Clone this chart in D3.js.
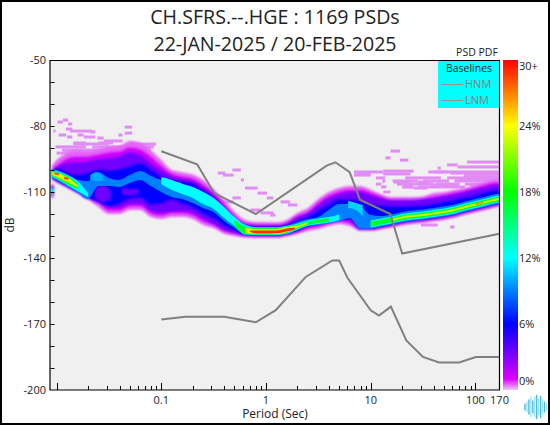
<!DOCTYPE html>
<html><head><meta charset="utf-8">
<script src="https://cdn.jsdelivr.net/npm/d3@7"></script>
<style>html,body{margin:0;padding:0;background:#fff}svg{display:block}text{font-family:"Open Sans",sans-serif;fill:#222}</style>
</head><body><div id="c"></div>
<script>
const titleLines = ["CH.SFRS.--.HGE : 1169 PSDs", "22-JAN-2025 / 20-FEB-2025"];
const yTicks = [-50,-80,-110,-140,-170,-200];
const xLabels = [0.1,1,10,100,170];
const colorLabels = ["30+","24%","18%","12%","6%","0%"];
const colorLabelPct = [29.5,24,18,12,6,0.8];
const colorStopPct = [30,24,18,12,6,1,0];
const colorStopHex = ["#ff0000","#ffff00","#00ff00","#00ffff","#0000ff","#dd00ff","#f0c8f5"];

const hnmPeriod = [0.1,0.22,0.32,0.8,3.8,4.6,6.3,7.9,15.4,20,170];
const hnmDb = [-91.5,-97.4,-110.5,-120,-98,-96.5,-101,-113.5,-120,-138,-129];
const lnmPeriod = [0.1,0.17,0.4,0.8,1.24,2.4,4.3,5,6,10,12,15.6,21.9,31.6,45,70,101,154,170];
const lnmDb = [-168,-166.7,-166.7,-169.2,-163.7,-148.6,-141.1,-141.1,-149,-163.8,-166.2,-162.1,-177.5,-185,-187.5,-187.5,-185,-185,-185];

// PDF column periods (sec)
const periods = [0.0091,0.01,0.0126,0.0158,0.02,0.0251,0.0316,0.0398,0.0501,0.0631,0.0794,0.1,0.126,0.158,0.2,0.251,0.316,0.398,0.501,0.631,0.794,1,1.26,1.58,2,2.51,3.16,3.98,5.01,6.31,7.94,10,12.6,15.8,20,25.1,31.6,39.8,50.1,63.1,79.4,100,126,158,170];
// outline of each probability level, dB at top and bottom of the level in every column
const p03Top = [-97.7,-95.5,-92.3,-91,-91.5,-90.5,-89.5,-89,-86.8,-87.7,-91,-95.5,-100,-101,-102,-104.5,-108.7,-113.6,-119,-122.7,-123.6,-123.6,-123.8,-122.7,-119.5,-117.3,-113.2,-110,-108.2,-107.3,-107.3,-109,-111,-112.3,-112.3,-112.3,-112,-110.5,-110,-109,-108.2,-106.8,-105.5,-104.5,-104.5];
const p03Bot = [-104.5,-105.7,-108.2,-110.7,-113.4,-116.8,-120,-120,-118.2,-118.2,-121.4,-122.3,-121.4,-121.4,-122.3,-125,-126.4,-129,-130,-130.7,-130.9,-130.9,-130.9,-130.2,-129.1,-127.7,-126.8,-125.5,-124.5,-125.5,-127.7,-127.7,-127,-126.1,-125.2,-124.5,-124.1,-123.4,-122.7,-121.8,-120.5,-119.3,-118.2,-117,-116.8];
const p1Top = [-99,-97.7,-94.5,-93.6,-93.6,-92.7,-91.8,-91.4,-89.5,-90.5,-93.6,-97.7,-101.4,-102.7,-103.6,-106.4,-110,-115,-120.5,-124,-124.6,-124.6,-124.6,-123.6,-120.5,-118.7,-114.5,-111.4,-109.5,-108.6,-108.6,-110,-111.8,-113.2,-113.2,-113.2,-112.7,-111.8,-111,-110,-109,-107.7,-106.4,-105.5,-105.5];
const p1Bot = [-104.3,-105.5,-108,-110.5,-113.2,-115.5,-118.7,-118.7,-116.8,-116.8,-120,-121,-120,-120,-121,-123.6,-125.5,-128.2,-129.3,-130.2,-130.4,-130.4,-130.4,-129.8,-128.5,-126.8,-126,-124.5,-123.6,-124.5,-127.3,-127.3,-126.6,-125.7,-124.5,-123.9,-123.4,-122.7,-122,-121.1,-119.8,-118.6,-117.5,-116.4,-116.1];
const p3Top = [-100,-98.6,-96.8,-96.4,-96,-95,-94.5,-93.6,-91.8,-93.2,-96.8,-100,-102.7,-104,-105,-107.7,-111.4,-116.4,-121.8,-124.6,-125.1,-125.1,-125.1,-124.3,-121.4,-119.5,-115.9,-112.7,-111,-110,-110,-111.4,-112.7,-113.6,-113.6,-113.6,-113.2,-112.7,-111.8,-111,-110,-108.6,-107.7,-106.8,-106.8];
const p3Bot = [-104.2,-105.3,-107.8,-110.3,-113.2,-113.2,-117.3,-117.3,-115.5,-115.5,-118.7,-119.5,-119.1,-118.7,-119.5,-122.3,-124.5,-127.3,-128.6,-130,-130.2,-130.2,-130.2,-129.5,-128.2,-126.1,-125,-123.6,-122.7,-123.2,-127.3,-127.3,-126.4,-125.5,-124.3,-123.6,-123.2,-122.5,-121.8,-120.9,-119.5,-118.4,-117.3,-116.1,-115.9];
const p6Top = [-101,-99,-101,-102,-101,-99.5,-100,-99.5,-98.2,-96.8,-99.5,-102.7,-104.5,-105,-106,-109,-112.7,-117.7,-122.7,-125,-125.5,-125.5,-125.5,-124.8,-122.7,-121,-118.2,-115.5,-113.2,-113.2,-114,-115.5,-116,-116.4,-116.4,-116.2,-116,-115.2,-114.3,-113.4,-112.3,-111.2,-110,-109,-109];
const p6Bot = [-104,-105,-107.6,-110.2,-113.1,-115,-116.8,-115.5,-113.2,-112.7,-116,-115.5,-113.6,-115.5,-117.3,-120,-122.3,-125.5,-127.7,-129.8,-130,-130,-130,-129.3,-127.7,-125,-124.5,-124,-123.2,-122.3,-126.8,-126.8,-125.9,-125,-123.9,-123.2,-122.7,-122,-121.4,-120.5,-119.1,-118,-116.8,-115.7,-115.5];
const p9Top = [-99.5,-100,-101.8,-104.5,-105,-101,-103.6,-104.5,-102.3,-100.5,-102.7,-104.5,-105.5,-106.8,-108.2,-111,-113.2,-117.3,-121.8,-124.5,-125.9,-125.9,-125.9,-125.2,-123.6,-122.3,-121.4,-118.2,-115.5,-115.5,-116.4,-120.5,-120.9,-120.2,-119.1,-118.4,-117.9,-117.3,-116.6,-115.7,-114.3,-113.2,-112,-110.9,-110.7];
const p9Bot = [-103.6,-104.5,-107.3,-110,-113,-107.3,-107.3,-107.7,-105.9,-104.5,-107.3,-110,-112.3,-113.2,-115,-117.3,-119.1,-123.2,-126.4,-129.5,-129.8,-129.8,-129.8,-129.1,-127.3,-125.5,-125,-124.1,-123.2,-121.8,-126.6,-126.6,-125.7,-124.8,-123.6,-122.9,-122.5,-121.8,-121.1,-120.2,-118.9,-117.7,-116.6,-115.5,-115.2];
const p12Top = [-100,-100.5,-102.3,-105,-110.5,null,null,null,null,null,null,-103.2,-104.5,-106.4,-107.7,-110,-112.7,-116.8,-121.4,-125,-126.1,-126.1,-126.1,-125.5,-124.3,-123,-122,-121.4,-120.2,null,null,-123,-122,-121.1,-120,-119.3,-118.9,-118.2,-117.5,-116.6,-115.2,-114.1,-113,-111.8,-111.6];
const p12Bot = [-103.2,-104.1,-106.8,-109.5,-112.3,null,null,null,null,null,null,-106.4,-109.1,-110.9,-112.7,-115.5,-117.7,-121.8,-125.5,-129.3,-129.5,-129.5,-129.5,-128.9,-127,-125.3,-124.5,-123.9,-122.7,null,null,-126.1,-125.2,-124.3,-123.2,-122.5,-122,-121.4,-120.7,-119.8,-118.4,-117.3,-116.1,-115,-114.8];
const p17Top = [-100.5,-100.9,-102.7,-105.9,null,null,null,null,null,null,null,null,null,null,null,null,null,null,-122.7,-125.7,-126.4,-126.4,-126.4,-125.7,-124.8,-123.4,-122.5,-121.8,null,null,null,-123.4,-122.5,-121.6,-120.5,-119.8,-119.3,-118.7,-118,-117,-115.7,-114.5,-113.4,-112.3,-112];
const p17Bot = [-102.7,-103.6,-106.4,-108.6,null,null,null,null,null,null,null,null,null,null,null,null,null,null,-125,-129.1,-129.3,-129.3,-129.3,-128.6,-126.6,-125,-124.1,-123.4,null,null,null,-125.7,-124.8,-123.9,-122.7,-122,-121.6,-120.9,-120.2,-119.3,-118,-116.8,-115.7,-114.5,-114.3];
const p23Top = [-100.9,-101.4,-103.2,-106.8,null,null,null,null,null,null,null,null,null,null,null,null,null,null,null,-126.4,-126.8,-126.8,-126.8,-125.9,-125.2,-123.9,null,null,null,null,null,null,null,-122.3,-121.1,-120.5,-120,-119.3,-118.6,-117.7,-116.4,-115.2,-114.1,-113,-112.7];
const p23Bot = [-102.3,-103.2,-105.5,-107.7,null,null,null,null,null,null,null,null,null,null,null,null,null,null,null,-128.6,-129.1,-129.1,-129.1,-128.2,-126.1,-124.5,null,null,null,null,null,null,null,-123.2,-122,-121.4,-120.9,-120.2,-119.5,-118.6,-117.3,-116.1,-115,-113.9,-113.6];

// separate small patches: [pct, periods, top dB, bottom dB]
const spotPink = [0.5,[0.0088,0.0094],[-106.4,-106.4],[-112.7,-112.7]];
const spotBlue = [6,[0.0088,0.0094],[-107.3,-107.3],[-111.4,-111.4]];
const spotCyan = [12,[0.0088,0.0093],[-108.6,-108.6],[-110.4,-110.4]];
const holeA = [3.5,[0.0234,0.0275,0.0325],[-108.2,-107.3,-109.1],[-112.7,-114.5,-113.2]];
const holeB = [3.5,[0.0427,0.0513,0.0603],[-108.2,-109.1,-108.7],[-111,-111.4,-110.5]];
const bumpCyan = [10,[0.021,0.024,0.028],[-102.3,-100.9,-102.7],[-104.5,-105,-104.9]];
const bumpGreen = [15,[0.122,0.14,0.166],[-105.9,-105.5,-106.8],[-107.3,-107.7,-108.2]];
const splitCyan = [11,[6.1,7.2,8.4],[-114,-115,-116],[-117.3,-118.2,-120.9]];
const redBand = [29,[0.7,0.794,1,1.26,1.58,1.9],[-127.5,-127.5,-127.5,-127.5,-126.6,-126.1],[-128,-128.9,-128.9,-128.8,-128,-126.9]];
const redLeftA = [28,[0.0095,0.0105],[-101,-101.4],[-102,-102.5]];
const redLeftB = [28,[0.0118,0.013],[-103,-103.5],[-104.2,-104.6]];
const redRight = [27,[100,120],[-115.2,-114.3],[-115.9,-115]];
const midPatches = [bumpCyan,bumpGreen,splitCyan];
const lowPatches = [spotPink,spotBlue,spotCyan,holeA,holeB];
const topPatches = [redBand,redLeftA,redLeftB,redRight];

// sparse low-probability runs: dB of the row, log10(period) start and end
const speckDb = [-78.2,-77.3,-79.1,-82.3,-84.1,-81.4,-82.3,-82.7,-84.1,-85,-85,-85.5,-86.8,-80.5,-83.2,-84.1,-87.7,-89.5,-87.7,-91.8,-86.8,-89.5,-101.4,-102.3,-100,-104.5,-108.2,-110.5,-112.7,-112.7,-114.5,-118.2,-119.5,-120.5,-115.9,-114.5,-91.4,-94.5,-95.5,-100.9,-100.5,-99.1,-97.7,-96.4,-98.6,-100.9,-102.3,-105,-105.5,-107.7,-110,-105.5,-108.2,-106.8,-101.4,-103.2,-102.3,-104.5,-106.8,-125,-125.9,
  -101.8,-101.8,-103.6,-103.6,-103.6,-105,-105,-105,-106.4,-106.4,-106.4,-106.4,-107.7,-107.7,-107.7,-100.9,-88.2,-88.2,-89.5,-89.5,-90.9,-92.3];
const speckFrom = [-1.99,-1.94,-1.89,-2.03,-1.98,-1.91,-1.87,-1.68,-1.80,-1.90,-1.74,-1.61,-1.55,-1.35,-1.35,-1.41,-1.84,-2.01,-1.60,-1.93,-1.47,-1.20,-0.46,-0.41,-0.32,-0.24,-0.20,-0.08,0.01,-0.32,-0.41,-0.15,-0.05,0.04,0.21,0.14,1.19,1.14,1.28,0.84,1.12,1.64,1.73,1.92,1.83,1.60,0.84,1.11,1.22,1.31,1.12,1.45,1.41,1.57,1.76,1.89,1.89,1.83,1.95,1.48,1.76,
  0.87,1.12,1.05,1.33,1.73,1.21,1.5,1.8,1.05,1.25,1.62,1.9,1.1,1.3,1.45,1.55,-1.84,-1.3,-1.98,-1.66,-1.95,-2.0];
const speckTo = [-1.94,-1.89,-1.85,-2.01,-1.91,-1.85,-1.66,-1.63,-1.74,-1.85,-1.63,-1.55,-1.46,-1.28,-1.28,-1.37,-1.72,-1.97,-1.46,-1.84,-1.37,-1.07,-0.39,-0.31,-0.24,-0.21,-0.08,0.01,0.07,-0.24,-0.31,-0.05,0.07,0.09,0.30,0.23,1.28,1.19,1.36,1.12,1.41,1.67,1.83,2.24,2.24,1.73,1.00,1.14,1.38,1.41,1.19,1.57,1.54,1.83,2.24,2.24,2.24,2.24,2.24,1.64,1.80,
  1.0,1.38,1.14,1.67,2.24,1.45,1.75,2.24,1.1,1.6,1.85,2.24,1.15,1.4,1.9,2.24,-1.5,-1.05,-1.72,-1.1,-1.1,-1.5];

const pLevels = [0.5,1.3,3.5,6,9,12,17,23];
const pTops = [p03Top,p1Top,p3Top,p6Top,p9Top,p12Top,p17Top,p23Top];
const pBots = [p03Bot,p1Bot,p3Bot,p6Bot,p9Bot,p12Bot,p17Bot,p23Bot];
const logoBars = [6,10,14,19,12,20,23,16,21,14,10,6];

const W=550,H=425;
const svg=d3.select("#c").append("svg").attr("width",W).attr("height",H);
svg.append("rect").attr("x",1).attr("y",1).attr("width",W-2).attr("height",H-2).attr("fill","#fff").attr("stroke","#000").attr("stroke-width",2);

const L=50.5,R=499.5,T=60.5,B=390;
const x=d3.scaleLog().domain([0.00875,170]).range([L,R]);
const y=d3.scaleLinear().domain([-50,-200]).range([T-0.5,B]);
const color=d3.scaleLinear().domain(colorStopPct).range(colorStopHex);

const defs=svg.append("defs");
defs.append("clipPath").attr("id","clip").append("rect").attr("x",L).attr("y",T).attr("width",R-L).attr("height",B-T);
[["softLow",1.2],["softHigh",0.7]].forEach(([id,s])=>{
  defs.append("filter").attr("id",id).attr("x","-5%").attr("y","-5%").attr("width","110%").attr("height","110%")
    .append("feGaussianBlur").attr("stdDeviation",s);
});
const grad=defs.append("linearGradient").attr("id","cbar").attr("x1",0).attr("x2",0).attr("y1",0).attr("y2",1);
colorStopPct.forEach((p,i)=>grad.append("stop").attr("offset",(30-p)/30).attr("stop-color",colorStopHex[i]));

svg.append("rect").attr("x",L).attr("y",T).attr("width",R-L).attr("height",B-T).attr("fill","#f0f0f0");
const plot=svg.append("g").attr("clip-path","url(#clip)");

// sparse runs
plot.append("g").selectAll("rect").data(speckDb).join("rect")
  .attr("x",(d,i)=>x(10**speckFrom[i])).attr("width",(d,i)=>x(10**speckTo[i])-x(10**speckFrom[i]))
  .attr("y",d=>y(d)-1.5).attr("height",3).attr("fill","#e28cf6");

const low=plot.append("g").attr("filter","url(#softLow)");
const high=plot.append("g").attr("filter","url(#softHigh)");
function band(g,pct,per,top,bot){
  const rows=per.map((p,i)=>({p,t:top[i],b:bot[i]}));
  const a=d3.area().curve(d3.curveMonotoneX).defined(d=>d.t!==null).x(d=>x(d.p)).y0(d=>y(d.b)).y1(d=>y(d.t));
  g.append("path").attr("d",a(rows)).attr("fill",color(pct));
}
pLevels.forEach((p,i)=>{
  const g=i<4?low:high;
  band(g,p,periods,pTops[i],pBots[i]);
  if(i===3) lowPatches.forEach(q=>band(low,q[0],q[1],q[2],q[3]));
  if(i===4) midPatches.forEach(q=>band(high,q[0],q[1],q[2],q[3]));
});
topPatches.forEach(q=>band(high,q[0],q[1],q[2],q[3]));

// baselines
const line=d3.line().x(d=>x(d[0])).y(d=>y(d[1]));
[[hnmPeriod,hnmDb],[lnmPeriod,lnmDb]].forEach(([a,b])=>{
  plot.append("path").attr("d",line(a.map((p,i)=>[p,b[i]]))).attr("fill","none").attr("stroke","#808080").attr("stroke-width",2);
});

// frame and ticks
const axes=svg.append("g").attr("stroke","#000").attr("stroke-width",1);
axes.append("path").attr("d",`M${L-0.5},${T}H${R}V${B}H${L-0.5}Z`).attr("fill","none").attr("stroke-width",1.2);
const xMajor=[0.01,0.1,1,10,100];
const xMinor=[];xMajor.forEach(m=>{for(let k=2;k<10;k++){const v=m*k;if(v<=170)xMinor.push(v);}});
axes.selectAll(".xM").data(xMajor).join("line").attr("class","xM").attr("x1",d=>Math.round(x(d))+.5).attr("x2",d=>Math.round(x(d))+.5).attr("y1",B).attr("y2",B-7);
axes.selectAll(".xm").data(xMinor).join("line").attr("class","xm").attr("x1",d=>Math.round(x(d))+.5).attr("x2",d=>Math.round(x(d))+.5).attr("y1",B).attr("y2",B-4);
axes.selectAll(".ym").data(d3.range(-190,-50,10)).join("line").attr("class","ym").attr("x1",L).attr("x2",L+4).attr("y1",d=>Math.round(y(d))+.5).attr("y2",d=>Math.round(y(d))+.5);

// text
svg.selectAll(".ttl").data(titleLines).join("text").attr("class","ttl").attr("x",275).attr("y",(d,i)=>23.5+i*27.5)
  .attr("text-anchor","middle").attr("font-size",19.6).text(d=>d);
svg.selectAll(".yl").data(yTicks).join("text").attr("class","yl").attr("x",46).attr("y",d=>y(d)+4)
  .attr("text-anchor","end").attr("font-size",11).text(d=>d);
svg.selectAll(".xl").data(xLabels).join("text").attr("class","xl").attr("x",d=>x(d)).attr("y",403.5)
  .attr("text-anchor","middle").attr("font-size",11).text(d=>d);
svg.append("text").attr("x",275).attr("y",418).attr("text-anchor","middle").attr("font-size",12).text("Period (Sec)");
svg.append("text").attr("transform","translate(14,225) rotate(-90)").attr("text-anchor","middle").attr("font-size",12).text("dB");
svg.append("text").attr("x",477).attr("y",56).attr("text-anchor","middle").attr("font-size",10.5).text("PSD PDF");

// colour bar
svg.append("rect").attr("x",503).attr("y",60).attr("width",15).attr("height",330).attr("fill","url(#cbar)");
svg.selectAll(".cl").data(colorLabels).join("text").attr("class","cl").attr("x",519)
  .attr("y",(d,i)=>60+(30-colorLabelPct[i])*11+4).attr("font-size",11).text(d=>d);

// legend
const lg=svg.append("g");
lg.append("rect").attr("x",438).attr("y",61).attr("width",61).attr("height",47).attr("fill","#00ffff");
lg.append("text").attr("x",469).attr("y",72).attr("text-anchor","middle").attr("font-size",10.5).text("Baselines");
["HNM","LNM"].forEach((s,i)=>{
  lg.append("line").attr("x1",442).attr("x2",462).attr("y1",84.5+i*16).attr("y2",84.5+i*16).attr("stroke","#a08c8c");
  lg.append("text").attr("x",465).attr("y",88+i*16).attr("font-size",11).style("fill","#808080").text(s);
});
// logo
svg.append("g").selectAll("line").data(logoBars).join("line")
  .attr("x1",(d,i)=>525+i*1.95).attr("x2",(d,i)=>525+i*1.95)
  .attr("y1",d=>407-d/2).attr("y2",d=>407+d/2)
  .attr("stroke",(d,i)=>i%2?"#9fe2f2":"#4fbcdc").attr("stroke-width",1.4).attr("stroke-linecap","round");
</script></body></html>
